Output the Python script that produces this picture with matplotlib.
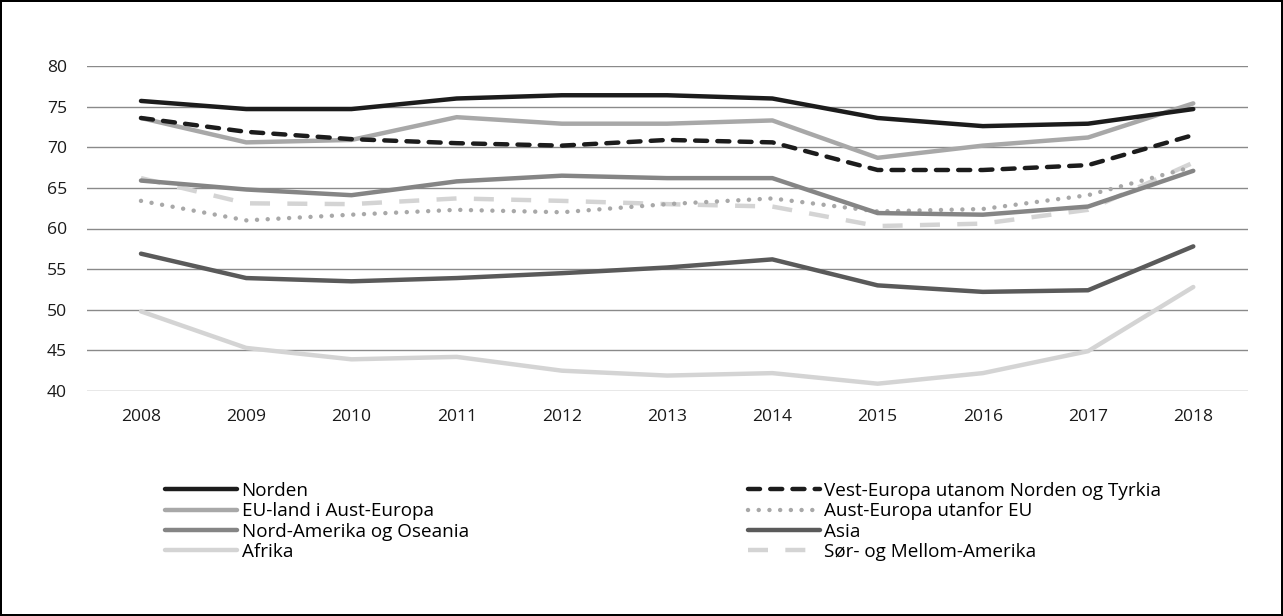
import matplotlib.pyplot as plt
from matplotlib.lines import Line2D

plt.rcParams['font.family'] = ['Open Sans', 'DejaVu Sans']

years = [2008, 2009, 2010, 2011, 2012, 2013, 2014, 2015, 2016, 2017, 2018]

norden = [75.7, 74.7, 74.7, 76.0, 76.4, 76.4, 76.0, 73.6, 72.6, 72.9, 74.7]
vest_europa = [73.6, 71.9, 71.0, 70.5, 70.2, 70.9, 70.6, 67.2, 67.2, 67.8, 71.5]
eu_aust = [73.6, 70.6, 70.9, 73.7, 72.9, 72.9, 73.3, 68.7, 70.2, 71.2, 75.4]
aust_utanfor = [63.4, 61.0, 61.7, 62.3, 62.0, 63.0, 63.7, 62.1, 62.4, 64.1, 67.6]
nord_amerika = [65.9, 64.8, 64.1, 65.8, 66.5, 66.2, 66.2, 61.9, 61.7, 62.7, 67.1]
asia = [56.9, 53.9, 53.5, 53.9, 54.5, 55.2, 56.2, 53.0, 52.2, 52.4, 57.8]
afrika = [49.8, 45.3, 43.9, 44.2, 42.5, 41.9, 42.2, 40.9, 42.2, 44.9, 52.8]
sor_amerika = [66.2, 63.1, 63.0, 63.7, 63.4, 63.0, 62.7, 60.3, 60.6, 62.3, 68.1]

yticks = [40, 45, 50, 55, 60, 65, 70, 75, 80]

fig = plt.figure(figsize=(12.83, 6.16), dpi=100, linewidth=1.5, edgecolor='black')
ax = fig.add_axes([87 / 1283, 1 - 391 / 616, (1248 - 87) / 1283, (391 - 66) / 616])

for y in yticks:
    ax.axhline(y, color='#8a8a8a', linewidth=1.0, zorder=1)

lw = 3.2
series = [
    (norden, 'Norden', dict(color='#1c1c1c', linestyle='-')),
    (eu_aust, 'EU-land i Aust-Europa', dict(color='#a8a8a8', linestyle='-')),
    (nord_amerika, 'Nord-Amerika og Oseania', dict(color='#858585', linestyle='-')),
    (afrika, 'Afrika', dict(color='#d4d4d4', linestyle='-')),
    (vest_europa, 'Vest-Europa utanom Norden og Tyrkia',
     dict(color='#1c1c1c', linestyle=(0, (2.7, 2.3)), dash_capstyle='round')),
    (aust_utanfor, 'Aust-Europa utanfor EU',
     dict(color='#a8a8a8', linestyle=(0, (0.01, 2.4)), dash_capstyle='round')),
    (asia, 'Asia', dict(color='#5a5a5a', linestyle='-')),
    (sor_amerika, 'Sør- og Mellom-Amerika',
     dict(color='#d4d4d4', linestyle=(0, (4.5, 3.9)), dash_capstyle='butt')),
]

# draw order so dark lines sit on top
draw_order = [3, 7, 5, 2, 6, 1, 4, 0]
handles = {}
for i in draw_order:
    vals, label, style = series[i]
    ln, = ax.plot(years, vals, linewidth=lw, label=label, zorder=2 + draw_order.index(i),
                  solid_capstyle='round', **style)
    handles[i] = ln

ax.set_xlim(2007.487, 2018.52)
ax.set_ylim(40, 80)
ax.set_xticks(years)
ax.set_yticks(yticks)
ax.tick_params(length=0, labelsize=12.6, colors='#1a1a1a')
ax.tick_params(axis='y', pad=14.4)
ax.tick_params(axis='x', pad=13)
for s in ax.spines.values():
    s.set_visible(False)

left = [handles[i] for i in range(4)]
right = [handles[i] for i in range(4, 8)]
leg_kw = dict(frameon=False, fontsize=13.6, handlelength=3.8, handletextpad=0.25,
              labelspacing=0.12, borderpad=0, borderaxespad=0, loc='upper left')
l1 = fig.legend(left, [series[i][1] for i in range(4)],
                bbox_to_anchor=(165 / 1283, 1 - 482 / 616), **leg_kw)
l2 = fig.legend(right, [series[i][1] for i in range(4, 8)],
                bbox_to_anchor=(748 / 1283, 1 - 482 / 616), **leg_kw)

fig.savefig('out.png', dpi=100, edgecolor=fig.get_edgecolor())
